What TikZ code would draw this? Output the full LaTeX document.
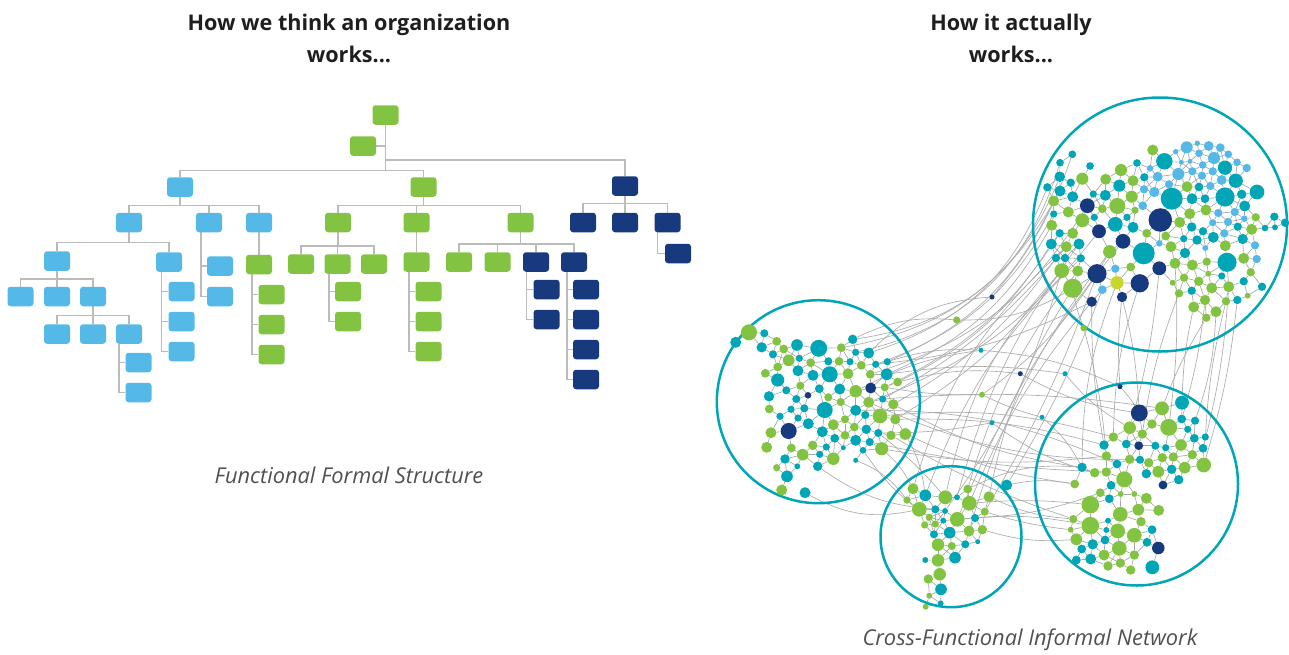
\documentclass[tikz,border=0pt]{standalone}
\usepackage{fontspec}
\setmainfont{Open Sans}
\usetikzlibrary{calc}
\pgfdeclarelayer{bg}
\pgfsetlayers{bg,main}
\definecolor{gr}{HTML}{82C341}
\definecolor{lb}{HTML}{55B9E8}
\definecolor{nv}{HTML}{17397E}
\definecolor{tl}{HTML}{00A6B6}
\definecolor{yg}{HTML}{C9D52B}
\definecolor{orgline}{HTML}{BBBBBB}
\definecolor{meshc}{HTML}{A6A6A6}
\definecolor{linkc}{HTML}{ABABAB}
\definecolor{txt}{HTML}{1E1E1E}
\definecolor{captxt}{HTML}{505050}

\def\Tlist{1152.7/150/5/gr, 1175.7/151.7/2.5/lb, 1186.7/147.3/5.5/lb, 1197.3/143.3/2.5/lb, 1208.7/146/4.5/lb, 1220.3/147.7/4/lb, 1228.3/154.3/3.5/lb, 1072.3/154.3/3.5/tl, 1060/162.7/3.5/tl, 1090/166/3.5/tl,
1164.3/161.3/7.5/tl, 1137/163/3.5/tl, 1150/168.3/3/lb, 1181.3/162.3/2.3/lb, 1190/161.3/2.3/lb, 1199/153.3/3.5/lb, 1214/158/5.5/lb, 1202.7/165/3.5/lb, 1225/167.7/6.5/tl, 1237/162.3/3.5/lb,
1246.7/168/3.8/lb, 1121/170/5.5/gr, 1059.7/176.7/4.8/tl, 1082.3/178.7/5.5/gr, 1105.7/179.3/5/gr, 1119.3/185.7/5.5/tl, 1133/180.7/5/gr, 1144.3/177.3/3.8/tl, 1157.7/176.7/4.5/lb, 1178.3/174/5.5/lb,
1192.3/171.3/3.8/lb, 1202/175.7/3.8/lb, 1212.7/171.3/3.8/lb, 1221.7/180/4.5/lb, 1235.7/180.7/6.5/tl, 1047.3/187.3/3.8/tl, 1070.7/182.7/3.8/tl, 1060/191/5/tl, 1072.7/196.7/5/tl, 1093.3/194/3.3/tl,
1105.3/195.3/5/tl, 1131.7/196.7/5.5/gr, 1144/189.3/3.8/lb, 1154.3/192/4.7/lb, 1169/184.3/3.8/lb, 1187/186.7/5/gr, 1199/187/4/tl, 1210.3/186/3.8/lb, 1171.7/198.7/10/tl, 1192/198.7/5/tl,
1205/198.7/4/tl, 1225/197/8.7/tl, 1241.7/194.3/4.3/tl, 1257/192/6.7/tl, 1053.7/201/5/gr, 1087.3/205.7/6.7/nv, 1102.3/208.7/4/gr, 1117.3/206/7.3/gr, 1135/210.3/3.3/gr, 1142.7/205.7/4/lb,
1160.3/220/10.7/nv, 1189.7/213.7/5/gr, 1206/210/5/gr, 1218.3/213/3.8/lb, 1234.7/212/3.8/lb, 1244.7/206/5/tl, 1053.7/214/3.3/tl, 1068.3/212/5/gr, 1082.3/220.3/6.3/gr, 1094.3/217.3/3.3/tl,
1127/217.3/3.3/tl, 1051.7/225.3/5/gr, 1099/231.3/6.3/nv, 1115.3/224.3/6.7/tl, 1133/227.3/5/tl, 1179.7/222.3/5/gr, 1191.7/227/4.3/tl, 1212.7/222.7/3.3/lb, 1228/222/3.8/lb, 1237.7/226.7/3.8/tl,
1244.3/218.7/3/lb, 1251.7/229.3/5/gr, 1255.7/217.3/3.8/gr, 1265/228/3/tl, 1274.3/216.7/3.8/tl, 1275/227.3/2.7/tl, 1285/222.7/3.8/tl, 1059.7/233.3/3.8/tl, 1072.7/233.3/5/gr, 1123/241.3/6.7/nv,
1146.7/233.3/4/gr, 1165.7/236/4/gr, 1203/231.3/3.8/tl, 1197/240/4.3/tl, 1213.3/237.3/5/tl, 1224.3/233.3/3.8/lb, 1242.7/239/4.7/tl, 1183.7/238.7/3.3/tl, 1051.3/244/5/tl, 1066.3/246.7/5/gr,
1079/244/5/tl, 1109.7/251.7/6/gr, 1143.7/253.3/10/tl, 1159.3/243.3/3/lb, 1171/246.7/5/gr, 1185/253/4.7/tl, 1205.3/248/2.7/lb, 1225.3/245.7/5/gr, 1255/245.3/3.8/lb, 1056/258/3.8/tl,
1065/258/3.8/tl, 1080.7/258.3/3.8/tl, 1175/263.3/5/gr, 1192.3/265/5/gr, 1206.7/261.7/3.8/gr, 1227/262.3/8.7/tl, 1243.7/258.3/5/gr, 1256.7/259/3.8/lb, 1061.7/270.7/6.7/gr, 1077.7/271/5/gr,
1097/273.7/8.7/nv, 1115.3/268.7/3.8/lb, 1130.7/267/4/gr, 1159.3/268.3/6.3/nv, 1208.3/273.7/2.7/gr, 1221.7/276/3.3/tl, 1250.7/272.3/3.8/gr, 1072.7/288.3/8.7/gr, 1102.3/289.7/4/lb, 1117/282.7/6/yg,
1139.7/283.3/8.3/nv, 1172.7/282.7/2.7/gr, 1184/277.7/3.8/gr, 1198.7/281.3/4.3/gr, 1211.7/288/5/gr, 1228.7/286.7/5/gr, 1243.7/281.3/3.8/tl, 1262/286.7/3.8/tl, 1091.7/301.7/4.7/nv, 1122/297/4.7/nv,
1179/293.3/3.8/gr, 1191.7/290.7/3.8/tl, 1205/300/4.7/gr, 1226/301.3/3.8/gr, 1237.3/300/3.8/tl, 1247.7/295.7/2.7/gr, 1193.7/307/5/gr, 1216/311.7/5/gr, 1206.3/317.7/3.8/gr}

\def\Llist{749/332.3/7.3/gr, 735.7/342.3/5/tl, 764.3/333.3/3.7/tl, 776.7/341.3/4/gr, 761.7/347.3/4.7/tl, 783.7/349/4/gr, 797/345/5.3/tl, 818.7/348.3/7.7/tl, 841.3/347.7/4/gr, 852.7/339.3/4.3/tl,
773/354.3/3.7/tl, 788.7/360.3/5.3/gr, 799.3/358.3/3.3/tl, 810.7/362.7/4/gr, 828.3/361.3/3.7/tl, 839/361.3/4/gr, 855.7/352.3/3.3/tl, 850/361.7/3.3/tl, 868.7/353/5/tl, 861.3/365.3/4/gr,
875.7/364.3/3.3/tl, 887.3/361.7/3.3/tl, 777.7/367/4/gr, 765.3/373.3/4/gr, 777.7/380/6/tl, 798/370.7/5/tl, 813/375.3/5/tl, 829.7/374.3/7.3/tl, 848/373.7/5/gr, 870.3/374.3/4/gr,
886.7/374.3/5.3/tl, 897.7/382/4/gr, 786.3/390.3/3.7/tl, 800.3/385.7/3.7/gr, 819.3/388.7/4/tl, 839.7/389/5/tl, 855.7/391.3/5.7/gr, 870.7/388/5/nv, 884.7/387.3/3.7/gr, 769/396.3/4.7/tl,
796.3/399/3.7/tl, 808/395.3/3/nv, 828.3/397.3/3.7/gr, 840.7/402/3.7/gr, 868.7/402.3/5/gr, 882.7/399/3.3/tl, 893.3/404.3/4.7/gr, 769.3/409/4/gr, 791/409.3/3.3/tl, 804.3/408.3/3.7/tl,
824.7/410/7.3/tl, 855.7/410.3/5/tl, 865.3/415/3.7/tl, 880/416/6.7/gr, 895.3/419.3/4.7/gr, 780/416.3/3.3/tl, 798/418/3.3/tl, 808.3/423.7/5/tl, 833.3/424.7/5/gr, 845/419.3/3.7/gr,
854.3/427/4/gr, 866.3/429.3/4.3/tl, 878.3/433/3.7/tl, 891/435.3/4.3/gr, 905.3/434/5.3/gr, 788.7/431/7.3/nv, 771/432.7/5/gr, 822.3/431.7/5/tl, 834.7/438.3/4/tl, 845/435.3/4/gr,
855.7/440.3/5/tl, 869.7/442/3.7/tl, 812.7/445.3/4.3/gr, 826.3/447/3.3/tl, 843.3/447.7/2.3/tl, 863/450.3/3/tl, 881.7/448.7/6/gr, 766.7/447.3/5/gr, 791.3/448/4/gr, 802.7/454.7/5.3/gr,
819.7/454.3/3.3/tl, 833.3/458.7/5.7/gr, 785/459/4.3/tl, 855.7/460.3/2.3/tl, 776.7/467.7/3.3/gr, 797.3/466.3/2.7/tl, 817.7/466.3/4.3/tl, 787/476.3/5.3/tl, 781.7/490/5/gr, 805/492.7/5/tl}

\def\Mlist{913/488.7/5/gr, 907/500/3.3/gr, 925.3/495.3/5.3/tl, 945.3/497.3/6.3/gr, 957/497.3/2.7/tl, 967.7/489/4/gr, 989/496.7/5/gr, 1006.7/485/5/tl, 919.3/509.3/6.7/gr, 935.3/509.3/3.7/tl,
945/511/2.7/tl, 969.3/503.3/6.7/gr, 984.7/511.7/3.7/gr, 929.3/517.3/3.3/gr, 943.3/520.7/2.7/tl, 957.3/519.3/6.7/gr, 975/518/3.7/tl, 924.7/525/3.3/gr, 935.3/524/3.3/gr, 949.7/532.7/5.3/tl,
969/531/5/gr, 982.3/529.7/4.3/gr, 934/534.3/3.7/tl, 938/544.7/5.7/gr, 951.7/546/3.7/gr, 965.3/544.3/3.7/tl, 977.7/541.7/2.3/tl, 955/557.7/5.3/tl, 925.3/560/2.7/tl, 938/560.3/5.7/gr,
939.7/574.3/5.7/gr, 928.3/579/4.3/gr, 941/589.3/5.3/tl, 929.3/595.7/2.7/gr, 940.7/603.3/2.7/tl, 925.7/606.7/2.7/gr}

\def\Rlist{1139.3/413/7.7/nv, 1162/408.3/6.3/gr, 1182/402.7/6.3/tl, 1129.7/427.7/5.7/gr, 1152/424/4.3/gr, 1168.7/427.3/7.7/gr, 1181.7/419/4/tl, 1195/420.7/3.7/tl, 1187.7/429.3/3.3/tl, 1113.3/437/4.3/gr,
1142.3/434/4.3/gr, 1104/445/4.3/tl, 1126.3/444/4/tl, 1138.7/445.7/4/nv, 1155.3/445.7/3.7/tl, 1165.7/447.7/3.3/tl, 1181/445/5.3/gr, 1194.3/438.3/4/tl, 1205.3/437/3.3/tl, 1203/448.3/4/tl,
1106.3/456/4.3/gr, 1129.7/459.3/4.3/gr, 1140/459.7/3.7/tl, 1162.3/457.7/4.3/gr, 1173.3/457/4.3/gr, 1192.3/454.7/4.3/gr, 1082/467.3/4.3/tl, 1117/464/4/tl, 1148.7/462.7/4.3/gr, 1158.3/471.7/5.3/gr,
1171.7/469.3/4.3/tl, 1184.7/467.7/5.3/gr, 1203.7/465/6.7/gr, 1094.7/472.7/4.3/gr, 1106.3/472/4.3/gr, 1146.3/473.7/4.3/tl, 1124.3/479.3/7.3/gr, 1074.7/484/4/gr, 1111/485.3/4/tl, 1163/485/4/nv,
1178.7/479.7/4.3/tl, 1100.3/492.7/4/gr, 1120.7/494/2.7/gr, 1134.3/494/2.7/gr, 1109.3/498.7/4/tl, 1146.3/498.3/5/gr, 1090.3/504.7/8/gr, 1158.7/510.3/5/gr, 1138.3/509.7/5.3/gr, 1120.3/514.3/6.7/gr,
1073.3/519/3.7/gr, 1108/520.7/2.7/tl, 1141/521.7/4.3/gr, 1090.3/525.7/8/gr, 1070.7/529.7/2.7/gr, 1106.3/530/2.7/tl, 1117.7/531/6.7/gr, 1134.3/535.3/6.7/gr, 1152/529.7/4/tl, 1076.3/539.3/5.3/gr,
1092.7/544.3/4.7/tl, 1105/540/4/tl, 1147/542.3/4/tl, 1158.3/548/5.7/nv, 1081.7/549/4/tl, 1119.3/548.3/6.7/gr, 1076.3/560/4/tl, 1090.7/559/5/tl, 1104/555/5/gr, 1134.3/555/4.3/gr,
1108/566/4.3/gr, 1120.3/563/4.3/gr, 1130.7/570/4.3/gr, 1152.3/567.3/6.3/tl}

\def\Slist{992/297/2.3/nv, 956.7/320/3.3/gr, 981/350.3/2.3/tl, 1020.3/373.7/2.3/nv, 1065/373.7/2.3/tl, 982/394.7/2.7/gr, 1042/417.3/2.3/tl, 992/422.7/2.3/tl, 1083.7/328/3/gr, 1120/386.7/2.3/nv}

\newcommand\placedots[2]{%
  \foreach \xa/\ya/\ra/\ca [count=\i] in #2 {
    \node[dot, fill=\ca, minimum size={2.2*\ra}] (#1\i) at (\xa,\ya) {};
  }}
\newcommand\meshdots[2]{%
  \foreach \xa/\ya/\ra/\ca [count=\i] in #2 {
    \foreach \xb/\yb/\rb/\cb [count=\j] in #2 {
      \ifnum\j>\i
        \pgfmathtruncatemacro\ok{veclen((\xb-\xa)/10,(\yb-\ya)/10)<(\ra+\rb+11)/10}
        \ifnum\ok=1 \draw[mesh] (#1\i) -- (#1\j);\fi
      \fi
    }
  }}

\begin{document}
\begin{tikzpicture}[x=1pt,y=-1pt,
  box/.style={rectangle, rounded corners=3pt, minimum width=26pt, minimum height=19.5pt, inner sep=0pt, draw=none},
  bb/.style={box, fill=lb},
  gb/.style={box, fill=gr},
  nb/.style={box, fill=nv},
  org/.style={draw=orgline, line width=1.5pt},
  dot/.style={circle, inner sep=0pt, draw=none},
  ring/.style={circle, draw=tl, line width=2.5pt, inner sep=0pt, fill=none},
  mesh/.style={draw=meshc, line width=0.65pt},
  link/.style={draw=linkc, line width=0.65pt},
  titlenode/.style={align=center, text=txt, font=\fontsize{21.6}{32}\selectfont\bfseries},
  capnode/.style={text=captxt, font=\fontsize{21.8}{26}\selectfont\itshape}]
\useasboundingbox (0,0) rectangle (1289,654);

% ---------------- titles ----------------
\node[titlenode] (t1) at (349,38) {How we think an organization\\works...};
\node[titlenode] (t2) at (1011,38) {How it actually\\works...};
\node[capnode] (c1) at (349,475) {Functional Formal Structure};
\node[capnode] (c2) at (1030,640) {Cross-Functional Informal Network};

% ---------------- org chart ----------------
\node[gb] (G0) at (385.5,115) {};
\node[gb] (G0b) at (363,146) {};
\node[bb] (B1) at (180,187) {};
\node[gb] (G1) at (423.5,187) {};
\node[nb] (N1) at (625,186) {};
% level 2
\node[bb] (B2a) at (129,222.5) {};
\node[bb] (B2b) at (209,222.5) {};
\node[bb] (B2c) at (259,222.5) {};
\node[gb] (G2a) at (338,222.5) {};
\node[gb] (G2b) at (416.5,222.5) {};
\node[gb] (G2c) at (520.5,222.5) {};
\node[nb] (N2a) at (583,222.5) {};
\node[nb] (N2b) at (625,222.5) {};
\node[nb] (N2c) at (667.5,222.5) {};
% level 3
\node[bb] (B3a) at (57,261) {};
\node[bb] (B3b) at (169,262) {};
\node[bb] (B3c) at (220,266) {};
\node[bb] (B3d) at (220,296.5) {};
\node[gb] (G3a) at (259,264.5) {};
\node[gb] (G3b) at (301,264) {};
\node[gb] (G3c) at (337.5,264) {};
\node[gb] (G3d) at (374,264) {};
\node[gb] (G3e) at (416.5,262) {};
\node[gb] (G3f) at (459,262) {};
\node[gb] (G3g) at (497.5,262) {};
\node[nb] (N3a) at (536,262) {};
\node[nb] (N3b) at (574,262) {};
\node[nb] (N3c) at (678,253.5) {};
% level 4+
\node[bb] (B4a) at (20.5,296.5) {};
\node[bb] (B4b) at (57,296.5) {};
\node[bb] (B4c) at (93,296.5) {};
\node[bb] (B5a) at (57,334) {};
\node[bb] (B5b) at (93,334) {};
\node[bb] (B5c) at (129,334) {};
\node[bb] (B6a) at (138.5,362.5) {};
\node[bb] (B6b) at (138.5,392.5) {};
\node[bb] (B4d) at (181.5,291.5) {};
\node[bb] (B4e) at (181.5,321.5) {};
\node[bb] (B4f) at (181.5,351.5) {};
\node[gb] (G4a) at (271.5,294.5) {};
\node[gb] (G4b) at (271.5,324.5) {};
\node[gb] (G4c) at (271.5,354.5) {};
\node[gb] (G4d) at (348,291.5) {};
\node[gb] (G4e) at (348,321.5) {};
\node[gb] (G4f) at (428.5,291.5) {};
\node[gb] (G4g) at (428.5,321.5) {};
\node[gb] (G4h) at (428.5,351.5) {};
\node[nb] (N4a) at (546.5,289.5) {};
\node[nb] (N4b) at (546.5,319.5) {};
\node[nb] (N4c) at (586,289.5) {};
\node[nb] (N4d) at (586,319.5) {};
\node[nb] (N4e) at (586,349.5) {};
\node[nb] (N4f) at (586,379.5) {};

\begin{pgfonlayer}{bg}
% trunk and top buses
\draw[org] (G0.south) -- ++(0,45.7) -| (B1.north);
\draw[org] (G0.south) -- ++(0,45.7) -| (G1.north);
\draw[org] (G0.south) -- ++(0,35) -| (N1.north);
\draw[org] (G0b.east) -- (G0b.east -| G0.south);
% level 2 buses
\foreach \c in {B2a,B2b,B2c} \draw[org] (B1.south) -- ++(0,8.5) -| (\c.north);
\foreach \c in {G2a,G2b,G2c} \draw[org] (G1.south) -- ++(0,8.5) -| (\c.north);
\foreach \c in {N2a,N2b,N2c} \draw[org] (N1.south) -- ++(0,7.5) -| (\c.north);
% level 3
\foreach \c in {B3a,B3b} \draw[org] (B2a.south) -- ++(0,10) -| (\c.north);
\foreach \c in {B3c,B3d} \draw[org] ([xshift=-8pt]B2b.south) |- (\c.west);
\draw[org] (B2c.south) -- (G3a.north);
\foreach \c in {G3b,G3c,G3d} \draw[org] (G2a.south) -- ++(0,13.5) -| (\c.north);
\draw[org] (G2b.south) -- (G3e.north);
\foreach \c in {G3f,G3g,N3a,N3b} \draw[org] (G2c.south) -- ++(0,11.5) -| (\c.north);
\draw[org] ([xshift=-10pt]N2c.south) |- (N3c.west);
% level 4+
\foreach \c in {B4a,B4b,B4c} \draw[org] (B3a.south) -- ++(0,8) -| (\c.north);
\foreach \c in {B5a,B5b,B5c} \draw[org] (B4c.south) -- ++(0,9) -| (\c.north);
\foreach \c in {B6a,B6b} \draw[org] ([xshift=-10pt]B5c.south) |- (\c.west);
\foreach \c in {B4d,B4e,B4f} \draw[org] ([xshift=-7.3pt]B3b.south) |- (\c.west);
\foreach \c in {G4a,G4b,G4c} \draw[org] ([xshift=-7pt]G3a.south) |- (\c.west);
\foreach \c in {G4d,G4e} \draw[org] ([xshift=-8.5pt]G3c.south) |- (\c.west);
\foreach \c in {G4f,G4g,G4h} \draw[org] ([xshift=-7.5pt]G3e.south) |- (\c.west);
\foreach \c in {N4a,N4b} \draw[org] ([xshift=-9.3pt]N3a.south) |- (\c.west);
\foreach \c in {N4c,N4d,N4e,N4f} \draw[org] ([xshift=-7pt]N3b.south) |- (\c.west);
\end{pgfonlayer}

% ---------------- network ----------------
\node[ring, minimum size=254pt] (RT) at (1160,224.5) {};
\node[ring, minimum size=203pt] (RL) at (818.3,401.7) {};
\node[ring, minimum size=141pt] (RM) at (951,536.7) {};
\node[ring, minimum size=203pt] (RR) at (1136.5,484) {};

\placedots{T}{\Tlist}
\placedots{L}{\Llist}
\placedots{M}{\Mlist}
\placedots{R}{\Rlist}
\placedots{S}{\Slist}

\begin{pgfonlayer}{bg}
\meshdots{T}{\Tlist}
\meshdots{L}{\Llist}
\meshdots{M}{\Mlist}
\meshdots{R}{\Rlist}
% T -> L
\draw[link] (T36) to[bend left=25] (L19);
\draw[link] (T55) to[bend left=20] (L22);
\draw[link] (T72) to[bend left=18] (L31);
\draw[link] (T99) to[bend left=15] (L32);
\draw[link] (T23) to[bend left=30] (L10);
\draw[link] (T9) to[bend left=30] (L17);
\draw[link] (T67) to[bend left=20] (L21);
\draw[link] (T88) to[bend left=15] (L39);
\draw[link] (T110) to[bend left=12] (L47);
\draw[link] (T119) to[bend left=10] (L55);
\draw[link] (T38) to[bend left=25] (L9);
\draw[link] (T100) to[bend left=10] (L46);
\draw[link] (T56) to[bend left=20] (L30);
\draw[link] (T73) to[bend left=15] (L45);
% T -> R
\draw[link] (T139) to[bend right=5] (R12);
\draw[link] (T140) to[bend left=5] (R1);
\draw[link] (T131) to[bend right=8] (R10);
\draw[link] (T124) to[bend left=5] (R4);
\draw[link] (T147) to[bend right=5] (R3);
\draw[link] (T148) to[bend left=8] (R8);
\draw[link] (T143) to[bend left=5] (R7);
\draw[link] (T144) to[bend right=5] (R19);
\draw[link] (T136) to[bend left=5] (R20);
\draw[link] (T130) to[bend right=10] (R27);
\draw[link] (T113) to[bend left=5] (R6);
\draw[link] (T145) to[bend left=5] (R33);
\draw[link] (T149) to[bend right=5] (R2);
\draw[link] (T141) to[bend right=6] (R11);
\draw[link] (T128) to[bend right=5] (S9);
\draw[link] (S9) to[bend left=5] (R21);
\draw[link] (T140) to[bend right=5] (S10);
\draw[link] (S10) to[bend left=5] (R1);
% T -> M
\draw[link] (T128) to[bend right=10] (M7);
\draw[link] (T139) to[bend right=8] (M12);
\draw[link] (T120) to[bend right=10] (M6);
\draw[link] (T119) to[bend right=15] (M4);
\draw[link] (T129) to[bend left=5] (M8);
\draw[link] (T100) to[bend right=15] (M1);
\draw[link] (T112) to[bend right=12] (M3);
\draw[link] (T121) to[bend left=5] (M13);
\draw[link] (T90) to[bend right=8] (M16);
\draw[link] (T102) to[bend right=10] (M21);
% L -> R
\draw[link] (L47) to[bend right=10] (R27);
\draw[link] (L55) to[bend left=8] (R12);
\draw[link] (L65) to[bend right=8] (R38);
\draw[link] (L54) to[bend left=10] (R10);
\draw[link] (L64) to[bend right=6] (R51);
\draw[link] (L32) to[bend left=10] (S4);
\draw[link] (S4) to[bend right=10] (R1);
\draw[link] (L31) to[bend left=8] (S5);
\draw[link] (S5) to[bend right=10] (R4);
\draw[link] (L22) to[bend left=10] (S3);
\draw[link] (S3) to[bend left=10] (S10);
\draw[link] (L39) to[bend right=5] (S6);
\draw[link] (S6) to[bend right=5] (S7);
\draw[link] (S7) to[bend left=10] (R27);
\draw[link] (L63) to[bend right=5] (S8);
\draw[link] (S8) to[bend right=10] (R34);
\draw[link] (L77) to[bend right=8] (R21);
\draw[link] (L46) to[bend left=6] (R2);
\draw[link] (L45) to[bend right=12] (R23);
\draw[link] (L52) to[bend left=12] (R28);
\draw[link] (L72) to[bend right=5] (R35);
\draw[link] (L37) to[bend left=10] (S3);
% L -> M
\draw[link] (L77) to[bend left=10] (M1);
\draw[link] (L65) to[bend left=10] (M3);
\draw[link] (L84) to[bend left=15] (M2);
\draw[link] (L90) to[bend right=20] (M9);
\draw[link] (L87) to[bend right=15] (M10);
\draw[link] (L63) to[bend left=5] (M4);
\draw[link] (L76) to[bend right=10] (M14);
% M -> R
\draw[link] (M8) to[bend left=10] (R38);
\draw[link] (M7) to[bend right=10] (R51);
\draw[link] (M13) to[bend right=5] (R55);
\draw[link] (M22) to[bend right=10] (R60);
\draw[link] (M12) to[bend left=5] (R47);
\draw[link] (M6) to[bend left=15] (R27);
\draw[link] (M17) to[bend right=8] (R42);
\draw[link] (M16) to[bend left=8] (R54);
% others
\draw[link] (L10) to[bend left=15] (S2);
\draw[link] (S2) to[bend right=15] (T128);
\draw[link] (L19) to[bend left=20] (S1);
\draw[link] (S1) to[bend right=10] (T8);
\draw[link] (M5) to[bend left=10] (T101);
\draw[link] (M11) to[bend right=10] (T111);
\draw[link] (L21) to[bend right=10] (T139);
\draw[link] (T121) to[bend left=10] (S6);
\end{pgfonlayer}
\end{tikzpicture}
\end{document}
